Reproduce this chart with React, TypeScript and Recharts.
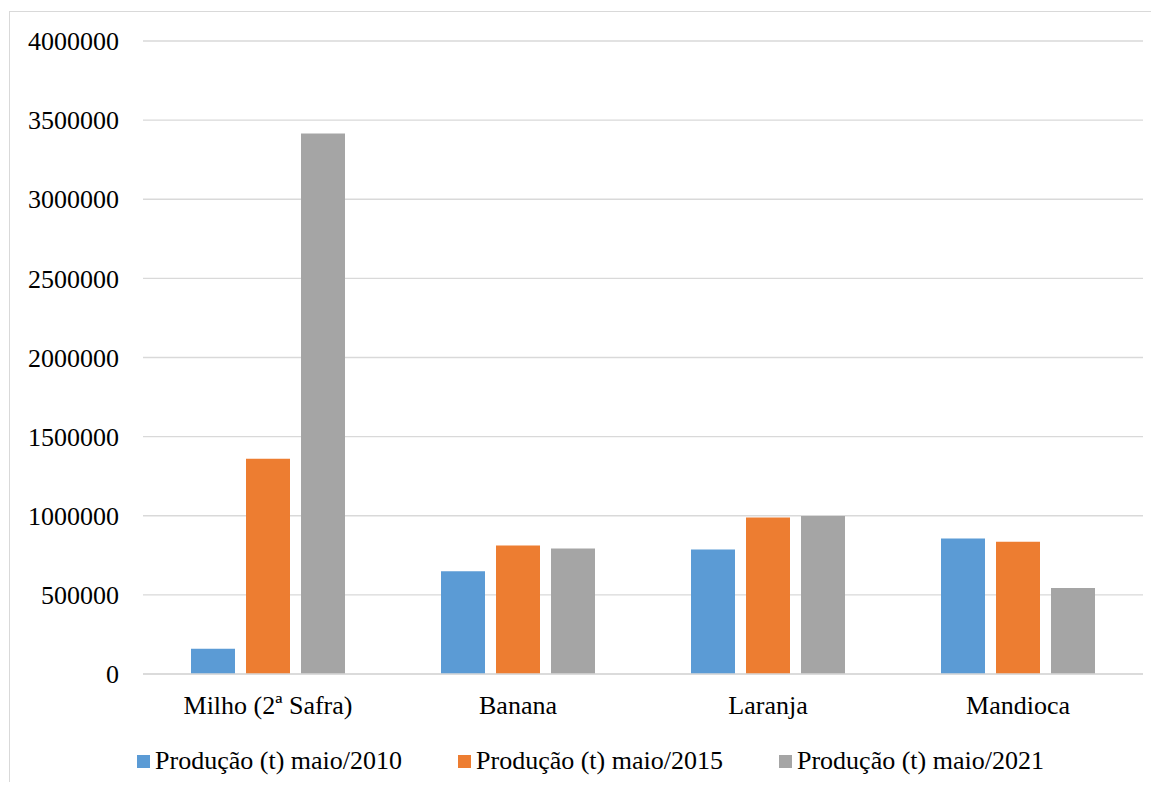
import { BarChart, Bar, XAxis, YAxis, CartesianGrid, Legend } from 'recharts';

const categories = ['Milho (2ª Safra)', 'Banana', 'Laranja', 'Mandioca'];
const prod2010 = [160000, 650000, 787000, 856000];
const prod2015 = [1360000, 812000, 989000, 835000];
const prod2021 = [3415000, 793000, 998000, 544000];
const yTicks = [0, 500000, 1000000, 1500000, 2000000, 2500000, 3000000, 3500000, 4000000];

const series = [
  { key: 'p2010', name: 'Produção (t) maio/2010', color: '#5b9bd5' },
  { key: 'p2015', name: 'Produção (t) maio/2015', color: '#ed7d31' },
  { key: 'p2021', name: 'Produção (t) maio/2021', color: '#a5a5a5' },
];

const data = categories.map((name, i) => ({
  name,
  p2010: prod2010[i],
  p2015: prod2015[i],
  p2021: prod2021[i],
}));

const font = 'Liberation Serif, DejaVu Serif, Times New Roman, serif';

function LegendContent() {
  return (
    <div style={{ display: 'flex', justifyContent: 'center', gap: 56, fontFamily: font, fontSize: 26, color: '#000', paddingLeft: 38 }}>
      {series.map((s) => (
        <div key={s.key} style={{ display: 'flex', alignItems: 'center' }}>
          <span style={{ width: 13, height: 13, background: s.color, display: 'inline-block', marginRight: 5 }} />
          <span>{s.name}</span>
        </div>
      ))}
    </div>
  );
}

export default function App() {
  return (
    <div style={{ position: 'relative', width: 1159, height: 790, margin: -8, overflow: 'hidden', background: '#fff', fontFamily: font }}>
      <div
        style={{
          position: 'absolute',
          left: 9,
          top: 11,
          width: 1200,
          height: 900,
          border: '1px solid #d9d9d9',
        }}
      />
      <div style={{ position: 'absolute', left: 0, top: 0 }}>
        <BarChart
          width={1159}
          height={790}
          data={data}
          margin={{ top: 41, right: 16, left: 0, bottom: 14 }}
          barGap={11}
          barCategoryGap={48}
        >
          <CartesianGrid vertical={false} stroke="#d9d9d9" strokeWidth={1.3} />
          <XAxis
            dataKey="name"
            axisLine={{ stroke: '#d9d9d9', strokeWidth: 1.3 }}
            tickLine={false}
            tickSize={0}
            tickMargin={22}
            height={72}
            tick={{ fill: '#000', fontSize: 26, fontFamily: font }}
          />
          <YAxis
            domain={[0, 4000000]}
            ticks={yTicks}
            axisLine={false}
            tickLine={false}
            tickSize={0}
            tickMargin={24}
            width={143}
            tick={{ fill: '#000', fontSize: 26, fontFamily: font }}
          />
          <Legend verticalAlign="bottom" content={<LegendContent />} wrapperStyle={{ bottom: 14 }} />
          {series.map((s) => (
            <Bar key={s.key} dataKey={s.key} name={s.name} fill={s.color} isAnimationActive={false} />
          ))}
        </BarChart>
      </div>
    </div>
  );
}
